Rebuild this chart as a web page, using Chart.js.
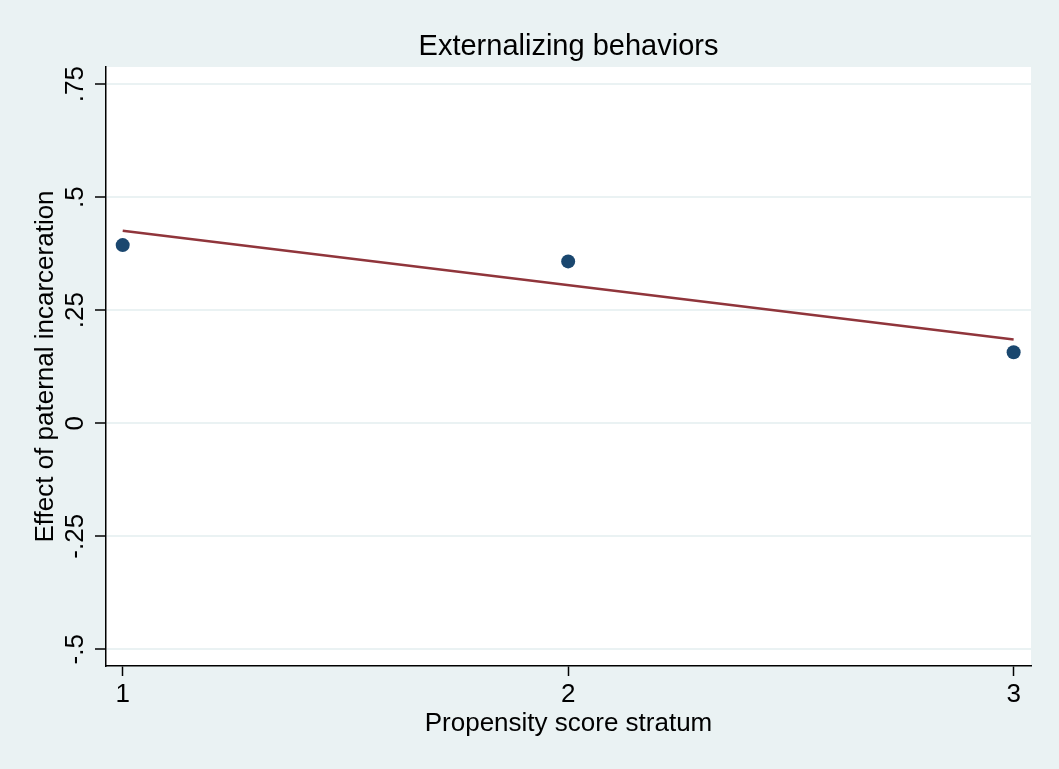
<!DOCTYPE html>
<html>
<head>
<meta charset="utf-8">
<script src="https://cdn.jsdelivr.net/npm/chart.js@4"></script>
<style>
  body { margin: 0; background: #ffffff; }
  canvas { display: block; }
</style>
</head>
<body>
<canvas id="mainChart" width="1059" height="769"></canvas>
<script>
// values
const strata = [1, 2, 3];
const effects = [0.394, 0.358, 0.157];
const fitX = [1, 3];
const fitY = [0.426, 0.185];
const xTicks = [1, 2, 3];
const xTickLabels = ['1', '2', '3'];
const yTicks = [-0.5, -0.25, 0, 0.25, 0.5, 0.75];
const yTickLabels = ['-.5', '-.25', '0', '.25', '.5', '.75'];

const bgColor = '#EAF2F3';
const fontFamily = '"Liberation Sans", Arial, Helvetica, sans-serif';

const backgroundPlugin = {
  id: 'bg',
  beforeDraw(chart) {
    const ctx = chart.ctx;
    const a = chart.chartArea;
    ctx.save();
    ctx.fillStyle = bgColor;
    ctx.fillRect(0, 0, chart.width, chart.height);
    ctx.fillStyle = '#ffffff';
    ctx.fillRect(a.left, a.top, a.right - a.left, a.bottom - a.top);
    ctx.restore();
  }
};

Chart.defaults.font.family = fontFamily;
Chart.defaults.color = '#000';

const ctx = document.getElementById('mainChart').getContext('2d');
window.myChart = new Chart(ctx, {
  type: 'scatter',
  data: {
    datasets: [
      {
        type: 'line',
        label: 'Fitted values',
        data: fitX.map((x, i) => ({x: x, y: fitY[i]})),
        borderColor: '#90353B',
        borderWidth: 2.5,
        pointRadius: 0,
        fill: false,
        order: 2
      },
      {
        label: 'Effect',
        data: strata.map((x, i) => ({x: x, y: effects[i]})),
        backgroundColor: '#1A476F',
        borderColor: '#1A476F',
        borderWidth: 0,
        pointRadius: 7,
        order: 1
      }
    ]
  },
  options: {
    responsive: false,
    animation: false,
    layout: { padding: {left: 0, right: 28, top: 0, bottom: 0} },
    plugins: {
      legend: { display: false },
      tooltip: { enabled: false },
      title: { display: false }
    },
    scales: {
      // top axis only carries the graph title, centred over the plot region
      x2: {
        type: 'linear',
        position: 'top',
        min: 0.9625,
        max: 3.039,
        afterFit: s => { s.height = 67; },
        grid: { display: false, drawTicks: false },
        border: { display: false },
        ticks: { display: false },
        title: {
          display: true,
          text: 'Externalizing behaviors',
          color: '#000',
          font: { size: 29, lineHeight: 1 },
          padding: { top: 32, bottom: 0 }
        }
      },
      x: {
        type: 'linear',
        position: 'bottom',
        min: 0.9625,
        max: 3.039,
        afterFit: s => { s.height = 103; },
        afterBuildTicks: s => { s.ticks = xTicks.map(v => ({value: v})); },
        grid: {
          drawOnChartArea: false,
          drawTicks: true,
          tickLength: 10,
          tickColor: '#000',
          tickWidth: 1.5
        },
        border: { display: true, color: '#000', width: 1.5 },
        ticks: {
          autoSkip: false,
          maxRotation: 0,
          padding: 3,
          font: { size: 26 },
          color: '#000',
          callback: v => xTickLabels[xTicks.indexOf(v)]
        },
        title: {
          display: true,
          text: 'Propensity score stratum',
          color: '#000',
          font: { size: 26, lineHeight: 1.2 },
          padding: { top: 0, bottom: 30 }
        }
      },
      y: {
        min: -0.537,
        max: 0.788,
        afterFit: s => { s.width = 106; },
        afterBuildTicks: s => { s.ticks = yTicks.map(v => ({value: v})); },
        grid: {
          color: bgColor,
          lineWidth: 2,
          drawTicks: true,
          tickLength: 11,
          tickColor: '#000',
          tickWidth: 1.5
        },
        border: { display: true, color: '#000', width: 1.5 },
        ticks: {
          autoSkip: false,
          minRotation: 90,
          maxRotation: 90,
          crossAlign: 'center',
          padding: -3,
          font: { size: 26 },
          color: '#000',
          callback: v => yTickLabels[yTicks.indexOf(v)]
        },
        title: {
          display: true,
          text: 'Effect of paternal incarceration',
          color: '#000',
          font: { size: 26, lineHeight: 1.2 },
          padding: { top: 30, bottom: 0 }
        }
      }
    }
  },
  plugins: [backgroundPlugin]
});
</script>
</body>
</html>
